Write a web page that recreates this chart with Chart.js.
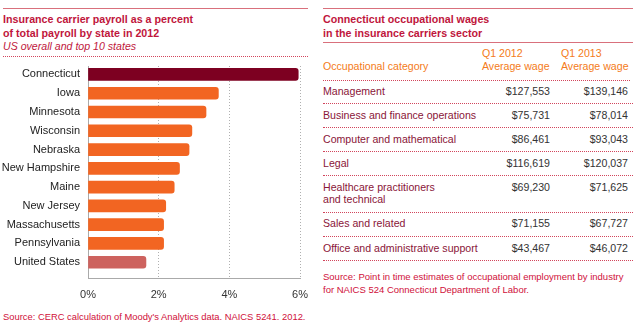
<!DOCTYPE html>
<html>
<head>
<meta charset="utf-8">
<script src="https://cdn.jsdelivr.net/npm/chart.js@4/dist/chart.umd.min.js"></script>
<style>
  body { margin: 0; background: #fff; font-family: "Liberation Sans", Arial, sans-serif; }
  #page { position: relative; width: 633px; height: 325px; overflow: hidden; }
  .abs { position: absolute; }
  .rule { position: absolute; height: 1.5px; background: #d9707c; }
  .dots { position: absolute; border-top: 1px dotted #d2455c; height: 0; }
  .title { color: #c0163c; font-weight: bold; font-size: 10.7px; line-height: 14px; }
  .source { color: #d0103a; font-size: 9.4px; line-height: 13.3px; }
  #chart { position: absolute; left: 0; top: 56px; }
  #table { position: absolute; left: 323px; top: 80px; width: 310px; }
  .row { position: relative; box-sizing: border-box; border-bottom: 1px dotted #d2455c; font-size: 10.6px; line-height: 12.5px; padding-top: 4.5px; }
  .row .cat { position: absolute; left: 0; color: #8a1538; }
  .row .v1 { position: absolute; right: 83px; color: #333; }
  .row .v2 { position: absolute; right: 5px; color: #333; }
  .head { color: #f47b20; font-size: 10.6px; line-height: 13px; }
</style>
</head>
<body>
<div id="page">
  <!-- left panel -->
  <div class="rule" style="left:3px; top:7.5px; width:305px;"></div>
  <div class="abs title" style="left:3px; top:12px;">Insurance carrier payroll as a percent<br>of total payroll by state in 2012</div>
  <div class="abs" style="left:3px; top:39.5px; font-size:10.6px; font-style:italic; color:#c0163c; line-height:13px;">US overall and top 10 states</div>
  <div class="dots" style="left:3px; top:56px; width:305px;"></div>
  <canvas id="chart" width="310" height="250"></canvas>
  <div class="abs source" style="left:3px; top:309.5px;">Source: CERC calculation of Moody's Analytics data. NAICS 5241. 2012.</div>

  <!-- right panel -->
  <div class="rule" style="left:323px; top:7.5px; width:310px;"></div>
  <div class="abs title" style="left:323px; top:12px;">Connecticut occupational wages<br>in the insurance carriers sector</div>
  <div class="rule" style="left:323px; top:41.5px; width:310px;"></div>
  <div class="abs head" style="left:323px; top:59.5px;">Occupational category</div>
  <div class="abs head" style="left:482px; top:46.5px;" id="h1"></div>
  <div class="abs head" style="left:561px; top:46.5px;" id="h2"></div>
  <div class="dots" style="left:323px; top:80px; width:307px;"></div>
  <div id="table"></div>
  <div class="abs source" style="left:323px; top:270px; font-size:9.5px;">Source: Point in time estimates of occupational employment by industry<br>for NAICS 524 Connecticut Department of Labor.</div>
</div>

<script>
// bar chart data
const states = ["Connecticut", "Iowa", "Minnesota", "Wisconsin", "Nebraska", "New Hampshire",
  "Maine", "New Jersey", "Massachusetts", "Pennsylvania", "United States"];
const payrollShare = [5.95, 3.69, 3.34, 2.94, 2.86, 2.59, 2.44, 2.2, 2.14, 2.14, 1.64];
const barColors = ["#7d0021", "#f26522", "#f26522", "#f26522", "#f26522", "#f26522",
  "#f26522", "#f26522", "#f26522", "#f26522", "#cd625e"];
const xTicks = [0, 2, 4, 6];

// table data
const occupations = ["Management", "Business and finance operations", "Computer and mathematical", "Legal",
  "Healthcare practitioners<br>and technical", "Sales and related", "Office and administrative support"];
const wages2012 = ["$127,553", "$75,731", "$86,461", "$116,619", "$69,230", "$71,155", "$43,467"];
const wages2013 = ["$139,146", "$78,014", "$93,043", "$120,037", "$71,625", "$67,727", "$46,072"];
const columnHeads = ["Q1 2012<br>Average wage", "Q1 2013<br>Average wage"];

// build the table
document.getElementById("h1").innerHTML = columnHeads[0];
document.getElementById("h2").innerHTML = columnHeads[1];
const table = document.getElementById("table");
occupations.forEach((name, i) => {
  const row = document.createElement("div");
  row.className = "row";
  row.style.height = (name.includes("<br>") ? 36.6 : 24.1) + "px";
  row.innerHTML = '<span class="cat">' + name + '</span>' +
    '<span class="v1">' + wages2012[i] + '</span>' +
    '<span class="v2">' + wages2013[i] + '</span>';
  table.appendChild(row);
});

// the chart
const ctx = document.getElementById("chart");
new Chart(ctx, {
  type: "bar",
  data: {
    datasets: [{
      data: payrollShare.map((v, i) => ({ x: v, y: i })),
      backgroundColor: barColors,
      barThickness: 12,
      borderRadius: 3,
      borderSkipped: "start",
    }],
  },
  options: {
    indexAxis: "y",
    responsive: false,
    animation: false,
    layout: { padding: { top: 10, right: 10, left: 0, bottom: 0 } },
    plugins: { legend: { display: false }, tooltip: { enabled: false } },
    scales: {
      x: {
        type: "linear",
        min: 0,
        max: 6,
        afterBuildTicks: (scale) => { scale.ticks = xTicks.map((v) => ({ value: v })); },
        afterFit: (scale) => {
          scale.height = 28;
          scale.paddingLeft = 0;
          scale.paddingRight = 0;
        },
        ticks: {
          padding: 10,
          color: "#333",
          font: { family: "'Liberation Sans', Arial, sans-serif", size: 11 },
          callback: (v) => v + "%",
        },
        grid: { color: "#b0b0b0", drawTicks: false },
        border: { display: true, color: "#aaa", dash: [1, 2] },
      },
      y: {
        type: "linear",
        offset: false,
        reverse: true,
        min: -0.45,
        max: 10.84,
        afterBuildTicks: (scale) => { scale.ticks = states.map((s, i) => ({ value: i })); },
        afterFit: (scale) => {
          scale.width = 88;
          scale.paddingTop = 0;
          scale.paddingBottom = 0;
        },
        ticks: {
          autoSkip: false,
          padding: 8,
          color: "#222",
          font: { family: "'Liberation Sans', Arial, sans-serif", size: 11 },
          callback: (v) => states[v],
        },
        grid: { display: false, drawTicks: false, offset: false },
        border: { display: true, color: "#aaa" },
      },
    },
  },
});
</script>
</body>
</html>
